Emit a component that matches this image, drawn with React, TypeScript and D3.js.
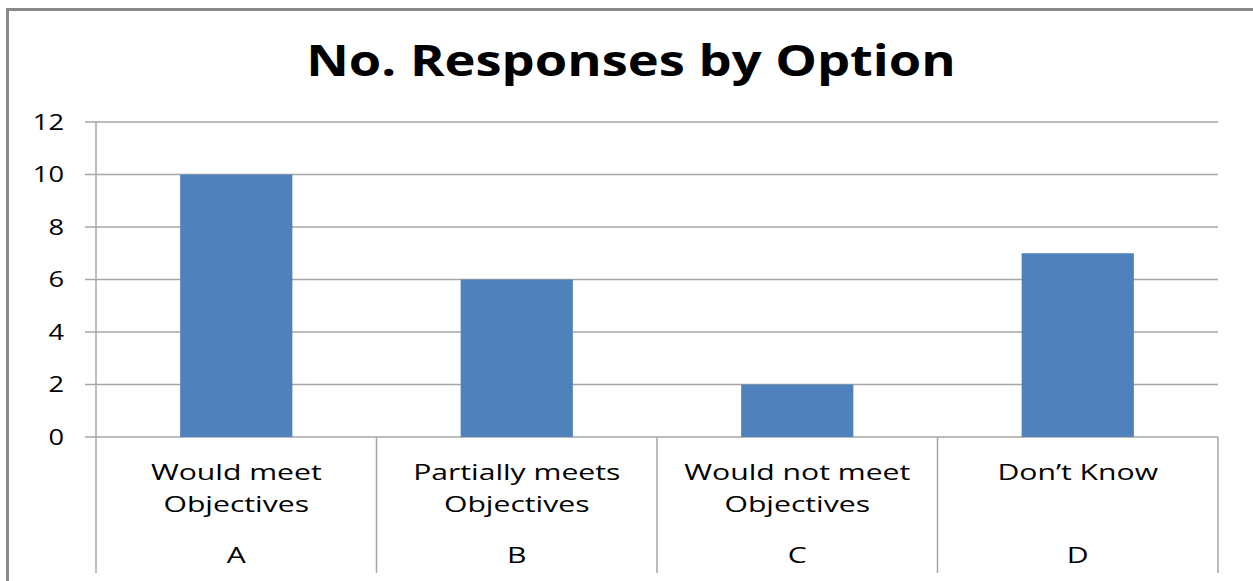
import { useEffect, useRef } from 'react'
import * as d3 from 'd3'

const title = 'No. Responses by Option'
const letters = ['A', 'B', 'C', 'D']
const optionLabels = [
  ['Would meet', 'Objectives'],
  ['Partially meets', 'Objectives'],
  ['Would not meet', 'Objectives'],
  ['Don\u2019t Know'],
]
const responses = [10, 6, 2, 7]
const yTicks = [0, 2, 4, 6, 8, 10, 12]

const W = 1253
const H = 581
const FONT = '"Open Sans", "DejaVu Sans", sans-serif'

export default function App() {
  const svgRef = useRef<SVGSVGElement>(null)

  useEffect(() => {
    if (!svgRef.current) return
    const svg = d3.select(svgRef.current)
    svg.selectAll('*').remove()

    const left = 96, right = 1218, top = 122, bottom = 437

    // chart frame (only top and left edges show in the crop)
    svg.append('rect')
      .attr('x', 7.5).attr('y', 9.5)
      .attr('width', W + 20).attr('height', H + 20)
      .attr('fill', 'white')
      .attr('stroke', '#8a8a8a').attr('stroke-width', 3)

    // the source picture is stretched sideways, so text is too
    svg.append('text')
      .attr('transform', 'translate(631,76) scale(1.22,1)')
      .attr('text-anchor', 'middle')
      .attr('font-family', FONT).attr('font-weight', 700)
      .attr('font-size', 43).attr('fill', '#000')
      .text(title)

    const x = d3.scaleBand<string>().domain(letters).range([left, right]).padding(0)
    const y = d3.scaleLinear().domain([0, 12]).range([bottom, top])

    // gridlines + ticks
    svg.append('g').selectAll('line')
      .data(yTicks)
      .join('line')
      .attr('x1', left - 11).attr('x2', right)
      .attr('y1', (d) => y(d)).attr('y2', (d) => y(d))
      .attr('stroke', '#a6a6a6').attr('stroke-width', 1.5)

    svg.append('g').selectAll('text')
      .data(yTicks)
      .join('text')
      .attr('transform', (d) => `translate(64,${y(d)}) scale(1.24,1)`)
      .attr('dy', '0.36em')
      .attr('text-anchor', 'end')
      .attr('font-family', FONT).attr('font-size', 22).attr('fill', '#000')
      .text((d) => d)

    // bars
    const bw = x.bandwidth() * 0.4
    svg.append('g').selectAll('rect')
      .data(responses)
      .join('rect')
      .attr('x', (_, i) => x(letters[i])! + (x.bandwidth() - bw) / 2)
      .attr('y', (d) => y(d))
      .attr('width', bw)
      .attr('height', (d) => bottom - y(d))
      .attr('fill', '#4f81bd')

    // axis line and category dividers
    svg.append('line')
      .attr('x1', left).attr('x2', left).attr('y1', top).attr('y2', bottom)
      .attr('stroke', '#a6a6a6').attr('stroke-width', 1.5)

    const dividers = [...letters.map((l) => x(l)!), right]
    svg.append('g').selectAll('line')
      .data(dividers)
      .join('line')
      .attr('x1', (d) => d).attr('x2', (d) => d)
      .attr('y1', bottom).attr('y2', 573)
      .attr('stroke', '#a6a6a6').attr('stroke-width', 1.5)

    const cats = svg.append('g')
    letters.forEach((l, i) => {
      const cx = x(l)! + x.bandwidth() / 2
      optionLabels[i].forEach((line, j) => {
        cats.append('text')
          .attr('transform', `translate(${cx},${480 + j * 32}) scale(1.37,1)`)
          .attr('text-anchor', 'middle')
          .attr('font-family', FONT).attr('font-size', 22).attr('fill', '#000')
          .text(line)
      })
      cats.append('text')
        .attr('transform', `translate(${cx},563) scale(1.37,1)`)
        .attr('text-anchor', 'middle')
        .attr('font-family', FONT).attr('font-size', 22).attr('fill', '#000')
        .text(l)
    })
  }, [])

  return (
    <div style={{ position: 'fixed', left: 0, top: 0 }}>
      <svg ref={svgRef} width={W} height={H} style={{ display: 'block' }} />
    </div>
  )
}
